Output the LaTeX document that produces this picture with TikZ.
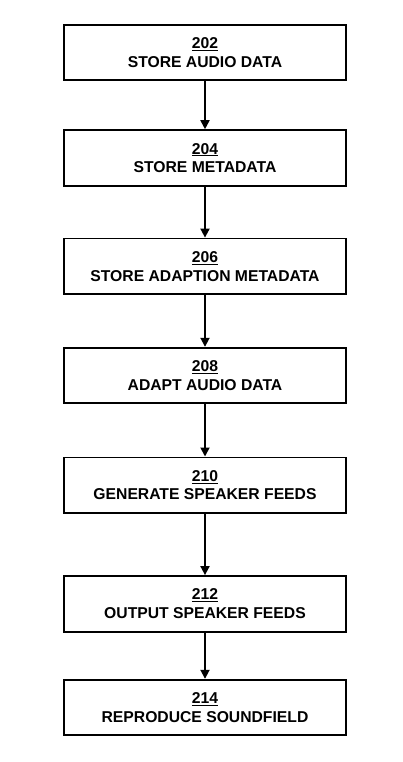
\documentclass[tikz,border=0pt]{standalone}
\usepackage{fontspec}
\setmainfont{Liberation Sans}
\usetikzlibrary{arrows.meta}
\begin{document}
\begin{tikzpicture}[x=1pt,y=-1pt,
  stepbox/.style={draw, line width=1.8pt, minimum width=282pt, minimum height=55.6pt, inner sep=0pt,
    align=center, font=\bfseries\fontsize{15.7}{18.6}\selectfont},
  flow/.style={line width=1.8pt, -{Triangle[length=9pt,width=9pt]}}]
\useasboundingbox (0,0) rectangle (402,762);
\node[stepbox] (a) at (205,52.5) {\underline{202}\\STORE AUDIO DATA};
\node[stepbox] (b) at (205,157.9) {\underline{204}\\STORE METADATA};
\node[stepbox] (c) at (205,266.3) {\underline{206}\\STORE ADAPTION METADATA};
\node[stepbox] (d) at (205,375.5) {\underline{208}\\ADAPT AUDIO DATA};
\node[stepbox] (e) at (205,485.2) {\underline{210}\\GENERATE SPEAKER FEEDS};
\node[stepbox] (f) at (205,603.8) {\underline{212}\\OUTPUT SPEAKER FEEDS};
\node[stepbox] (g) at (205,707.5) {\underline{214}\\REPRODUCE SOUNDFIELD};
\draw[flow] (a) -- (b);
\draw[flow] (b) -- (c);
\draw[flow] (c) -- (d);
\draw[flow] (d) -- (e);
\draw[flow] (e) -- (f);
\draw[flow] (f) -- (g);
\end{tikzpicture}
\end{document}
